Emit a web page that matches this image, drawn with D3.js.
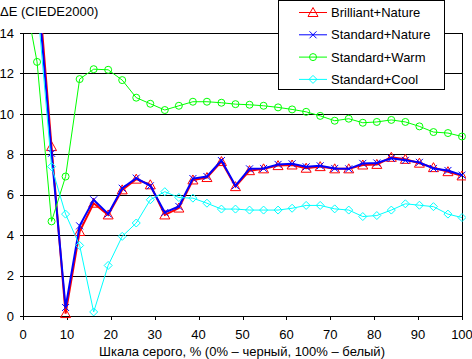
<!DOCTYPE html>
<html>
<head>
<meta charset="utf-8">
<script src="https://cdn.jsdelivr.net/npm/d3@7"></script>
<style>
  body { margin: 0; background: #fff; }
  text { font-family: "Liberation Sans", Arial, sans-serif; font-size: 13px; fill: #000; }
</style>
</head>
<body>
<div id="chart"></div>
<script>
// gray levels, %
var grayLevels = [0, 3.2, 6.5, 9.7, 12.9, 16.1, 19.4, 22.6, 25.8, 29.0, 32.3, 35.5, 38.7, 41.9, 45.2, 48.4,
                  51.6, 54.8, 58.1, 61.3, 64.5, 67.7, 71.0, 74.2, 77.4, 80.6, 83.9, 87.1, 90.3, 93.5, 96.8, 100];

var brilliantNature = [24, 17.2, 8.38, 0.12, 4.18, 5.58, 5.0, 6.24, 6.77, 6.49, 5.0, 5.34, 6.73, 6.85, 7.64, 6.4,
                       7.19, 7.28, 7.44, 7.47, 7.31, 7.39, 7.28, 7.28, 7.47, 7.5, 7.85, 7.75, 7.56, 7.34, 7.14, 6.93];
var standardNature = [24, 16.5, 8.05, 0.42, 4.46, 5.75, 5.05, 6.32, 6.82, 6.44, 5.12, 5.42, 6.8, 6.9, 7.69, 6.45,
                      7.28, 7.3, 7.5, 7.53, 7.38, 7.43, 7.3, 7.28, 7.55, 7.57, 7.8, 7.7, 7.6, 7.3, 7.2, 6.97];
var standardWarm = [16.3, 12.57, 4.68, 6.9, 11.72, 12.21, 12.18, 11.67, 10.8, 10.5, 10.19, 10.4, 10.6, 10.6, 10.55, 10.48,
                    10.45, 10.4, 10.32, 10.22, 10.1, 9.9, 9.66, 9.76, 9.56, 9.6, 9.7, 9.6, 9.38, 9.1, 9.05, 8.88];
var standardCool = [22, 15.6, 7.39, 5.04, 3.49, 0.2, 2.5, 3.94, 4.6, 5.75, 6.15, 5.86, 5.83, 5.58, 5.29, 5.29,
                    5.24, 5.24, 5.24, 5.33, 5.47, 5.47, 5.3, 5.24, 4.92, 4.97, 5.24, 5.55, 5.48, 5.41, 5.04, 4.87];

var xTicks = [0, 10, 20, 30, 40, 50, 60, 70, 80, 90, 100];
var yTicks = [0, 2, 4, 6, 8, 10, 12, 14];

var series = [
  {name: "Brilliant+Nature", values: brilliantNature, color: "#ff0000", width: 2, marker: "triangle"},
  {name: "Standard+Nature", values: standardNature, color: "#0000ff", width: 2, marker: "cross"},
  {name: "Standard+Warm", values: standardWarm, color: "#00ff00", width: 1, marker: "circle"},
  {name: "Standard+Cool", values: standardCool, color: "#00ffff", width: 1, marker: "diamond"}
];

var W = 472, H = 359;
var plotLeft = 23, plotRight = 462, plotTop = 33, plotBottom = 316;

var svg = d3.select("#chart").append("svg")
  .attr("width", W).attr("height", H);

var x = d3.scaleLinear().domain([0, 100]).range([plotLeft, plotRight]);
var y = d3.scaleLinear().domain([0, 14]).range([plotBottom, plotTop]);

// gridlines
svg.append("g").selectAll("line")
  .data(yTicks).enter().append("line")
  .attr("x1", plotLeft - 3).attr("x2", plotRight)
  .attr("y1", function(d) { return Math.round(y(d)) + 0.5; })
  .attr("y2", function(d) { return Math.round(y(d)) + 0.5; })
  .attr("stroke", "#000").attr("shape-rendering", "crispEdges");

// y labels
svg.append("g").selectAll("text")
  .data(yTicks).enter().append("text")
  .attr("x", 14).attr("y", function(d) { return y(d); })
  .attr("dy", "0.36em")
  .attr("text-anchor", "end")
  .text(function(d) { return d; });

// frame: left and right sides
svg.append("line").attr("x1", plotLeft + 0.5).attr("x2", plotLeft + 0.5).attr("y1", plotTop).attr("y2", plotBottom + 4)
  .attr("stroke", "#000");
svg.append("line").attr("x1", plotRight + 0.5).attr("x2", plotRight + 0.5).attr("y1", plotTop).attr("y2", plotBottom + 4)
  .attr("stroke", "#000");

// x ticks and labels
var xg = svg.append("g");
xg.selectAll("line").data(xTicks).enter().append("line")
  .attr("x1", function(d) { return Math.round(x(d)) + 0.5; })
  .attr("x2", function(d) { return Math.round(x(d)) + 0.5; })
  .attr("y1", plotBottom).attr("y2", plotBottom + 4)
  .attr("stroke", "#000");
xg.selectAll("text").data(xTicks).enter().append("text")
  .attr("x", function(d) { return x(d); })
  .attr("y", 339)
  .attr("text-anchor", "middle")
  .text(function(d) { return d; });

// titles
svg.append("text").attr("x", 0).attr("y", 16).text("ΔE (CIEDE2000)");
svg.append("text").attr("x", 242).attr("y", 356).attr("text-anchor", "middle")
  .text("Шкала серого, % (0% – черный, 100% – белый)");

// clip
svg.append("clipPath").attr("id", "plot")
  .append("rect").attr("x", plotLeft).attr("y", plotTop).attr("width", plotRight - plotLeft + 4).attr("height", plotBottom - plotTop + 4);

var line = d3.line()
  .x(function(d, i) { return x(grayLevels[i]); })
  .y(function(d) { return y(d); });

function drawMarker(g, type, color) {
  if (type === "triangle") {
    g.append("path").attr("d", "M0,-5L5,4L-5,4Z").attr("fill", "none").attr("stroke", color);
  } else if (type === "cross") {
    g.append("path").attr("d", "M-3.5,-3.5L3.5,3.5M-3.5,3.5L3.5,-3.5").attr("stroke", color);
  } else if (type === "circle") {
    g.append("circle").attr("r", 3.5).attr("fill", "none").attr("stroke", color);
  } else {
    g.append("path").attr("d", "M0,-4L4,0L0,4L-4,0Z").attr("fill", "none").attr("stroke", color);
  }
}

var plot = svg.append("g").attr("clip-path", "url(#plot)");
series.forEach(function(s) {
  plot.append("path")
    .datum(s.values)
    .attr("d", line)
    .attr("fill", "none")
    .attr("stroke", s.color)
    .attr("stroke-width", s.width);
  s.values.forEach(function(v, i) {
    var g = plot.append("g").attr("transform", "translate(" + x(grayLevels[i]) + "," + y(v) + ")");
    drawMarker(g, s.marker, s.color);
  });
});

// legend
var lg = svg.append("g");
lg.append("rect").attr("x", 278.5).attr("y", 0.5).attr("width", 166).attr("height", 89)
  .attr("fill", "#fff").attr("stroke", "#000");
series.forEach(function(s, i) {
  var ly = 12.5 + i * 22.3;
  lg.append("line").attr("x1", 299).attr("x2", 327).attr("y1", ly).attr("y2", ly)
    .attr("stroke", s.color);
  var g = lg.append("g").attr("transform", "translate(313," + ly + ")");
  drawMarker(g, s.marker, s.color);
  lg.append("text").attr("x", 331).attr("y", ly).attr("dy", "0.36em").text(s.name);
});
</script>
</body>
</html>
